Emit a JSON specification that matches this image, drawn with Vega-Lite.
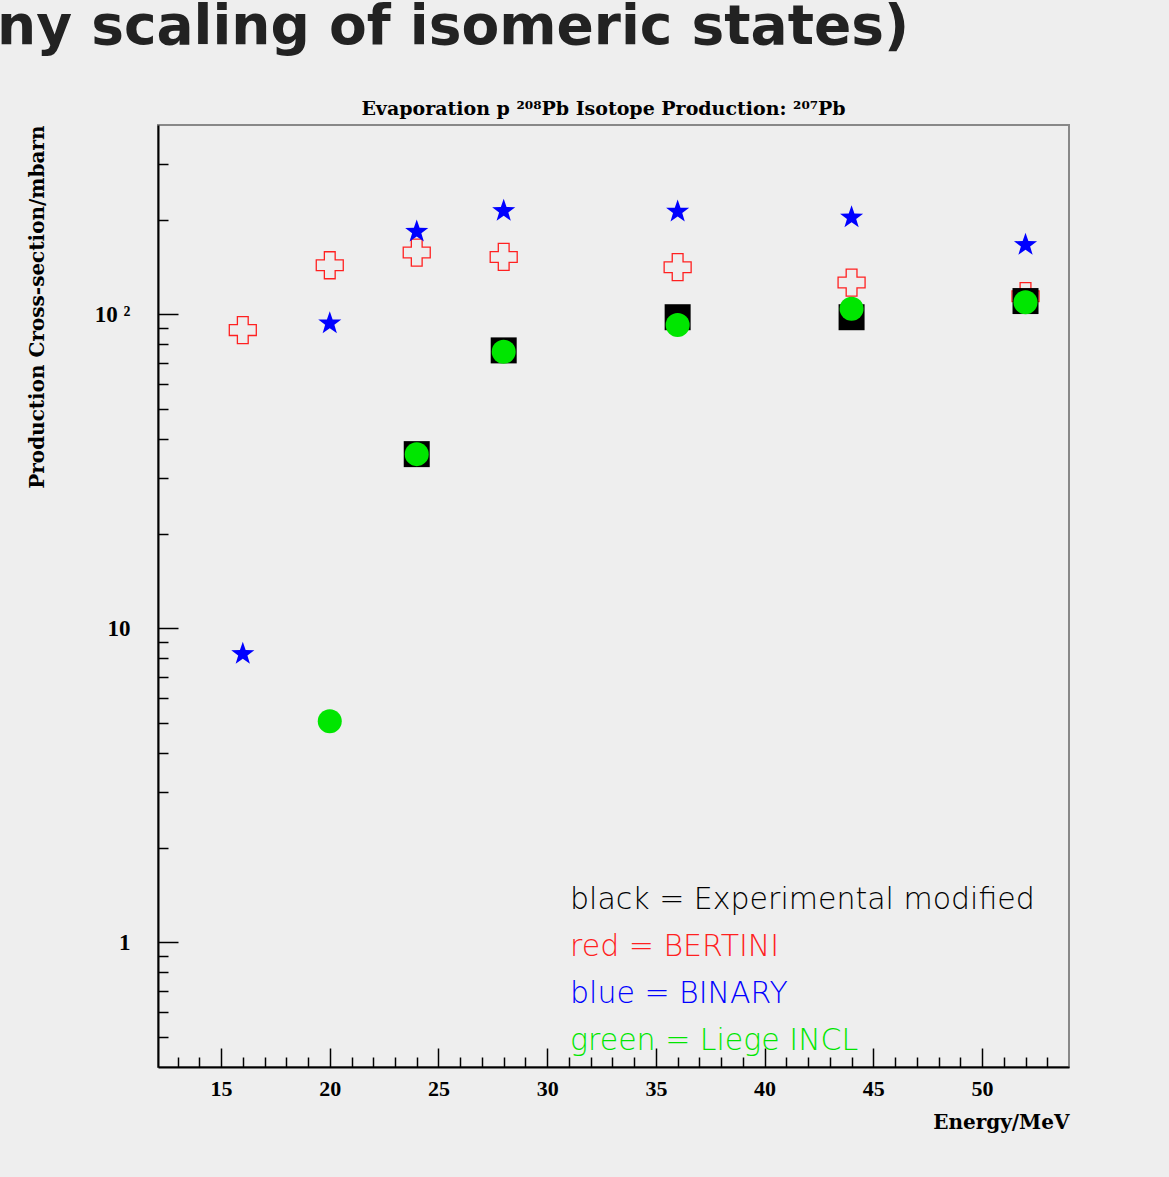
{
  "$schema": "https://vega.github.io/schema/vega-lite/v6.json",
  "width": 911,
  "height": 942,
  "autosize": {"type": "none"},
  "padding": {"left": 158, "top": 125, "right": 100, "bottom": 110},
  "background": "#eeeeee",
  "title": {
    "text": "ny scaling of isomeric states)",
    "anchor": "start",
    "frame": "group",
    "font": "DejaVu Sans",
    "fontSize": 55,
    "fontWeight": "bold",
    "color": "#222222",
    "baseline": "alphabetic",
    "offset": 0,
    "dx": -161
  },
  "config": {
    "view": {"stroke": "#888888", "strokeWidth": 2, "fill": "#eeeeee"}
  },
  "datasets": {
    "pts": [
      {"energy": 16, "xs": 88.9, "model": "BERTINI"},
      {"energy": 20, "xs": 143, "model": "BERTINI"},
      {"energy": 24, "xs": 157, "model": "BERTINI"},
      {"energy": 28, "xs": 152, "model": "BERTINI"},
      {"energy": 36, "xs": 141, "model": "BERTINI"},
      {"energy": 44, "xs": 126, "model": "BERTINI"},
      {"energy": 52, "xs": 114, "model": "BERTINI"},
      {"energy": 16, "xs": 8.27, "model": "BINARY"},
      {"energy": 20, "xs": 93.4, "model": "BINARY"},
      {"energy": 24, "xs": 183, "model": "BINARY"},
      {"energy": 28, "xs": 213, "model": "BINARY"},
      {"energy": 36, "xs": 212, "model": "BINARY"},
      {"energy": 44, "xs": 203, "model": "BINARY"},
      {"energy": 52, "xs": 166, "model": "BINARY"},
      {"energy": 24, "xs": 35.8, "model": "Experimental modified"},
      {"energy": 28, "xs": 76.6, "model": "Experimental modified"},
      {"energy": 36, "xs": 97.7, "model": "Experimental modified"},
      {"energy": 44, "xs": 97.7, "model": "Experimental modified"},
      {"energy": 52, "xs": 110, "model": "Experimental modified"},
      {"energy": 20, "xs": 5.05, "model": "Liege INCL"},
      {"energy": 24, "xs": 35.8, "model": "Liege INCL"},
      {"energy": 28, "xs": 75.9, "model": "Liege INCL"},
      {"energy": 36, "xs": 92.3, "model": "Liege INCL"},
      {"energy": 44, "xs": 104, "model": "Liege INCL"},
      {"energy": 52, "xs": 109, "model": "Liege INCL"}
    ]
  },
  "data": {"name": "pts"},
  "layer": [
    {
      "transform": [{"filter": "datum.model === 'BERTINI'"}],
      "mark": {"type": "point", "shape": "cross", "filled": false, "size": 729, "strokeWidth": 1.3, "opacity": 1},
      "encoding": {
        "x": {
          "field": "energy", "type": "quantitative",
          "scale": {"domain": [12.1, 54], "nice": false, "zero": false},
          "axis": {
            "orient": "bottom", "values": [15, 20, 25, 30, 35, 40, 45, 50], "format": "d",
            "tickSize": -19, "tickColor": "#000000", "tickWidth": 1.5,
            "domainColor": "#000000", "domainWidth": 2, "grid": false,
            "labelFont": "Liberation Serif", "labelFontWeight": "bold", "labelFontSize": 22,
            "labelColor": "#000000", "labelPadding": 30, "labelFlush": false,
            "title": "Energy/MeV", "titleFont": "DejaVu Serif", "titleFontSize": 20,
            "titleFontWeight": "bold", "titleColor": "#000000",
            "titleAlign": "right", "titleX": 911, "titleY": 61, "titleBaseline": "alphabetic"
          }
        },
        "y": {
          "field": "xs", "type": "quantitative",
          "scale": {"type": "log", "domain": [0.4, 400], "nice": false},
          "axis": {
            "orient": "left", "values": [1, 10, 100],
            "tickSize": -20, "tickColor": "#000000", "tickWidth": 1.5,
            "domainColor": "#000000", "domainWidth": 2, "grid": false,
            "labelFont": "Liberation Serif", "labelFontWeight": "bold", "labelFontSize": 23,
            "labelColor": "#000000", "labelPadding": 48,
            "labelExpr": "datum.value == 100 ? '10 ²' : datum.value == 10 ? '10' : '1'",
            "title": "Production  Cross-section/mbarn", "titleFont": "DejaVu Serif",
            "titleFontSize": 20, "titleFontWeight": "bold", "titleColor": "#000000",
            "titleAngle": 270, "titleAlign": "right", "titleBaseline": "middle",
            "titleX": -121, "titleY": 0
          }
        },
        "color": {
          "field": "model", "type": "nominal",
          "scale": {"domain": ["Experimental modified", "BERTINI", "BINARY", "Liege INCL"], "range": ["#000000", "#ff2020", "#0000ff", "#00e600"]},
          "legend": {
            "title": null, "orient": "none", "legendX": 382, "legendY": 760,
            "symbolSize": 0, "symbolOpacity": 0, "symbolStrokeWidth": 0, "labelOffset": 0,
            "labelFont": "DejaVu Sans", "labelFontSize": 30, "labelFontWeight": 200,
            "rowPadding": 17, "padding": 0, "labelLimit": 0,
            "labelExpr": "(datum.label === 'Experimental modified' ? 'black' : datum.label === 'BERTINI' ? 'red' : datum.label === 'BINARY' ? 'blue' : 'green') + ' = ' + datum.label",
            "encode": {"labels": {"update": {"fill": {"signal": "scale('color', datum.value)"}}}}
          }
        }
      }
    },
    {
      "transform": [{"filter": "datum.model === 'BINARY'"}],
      "mark": {"type": "point", "shape": "M0,-1L0.235,-0.324L0.951,-0.309L0.38,0.124L0.588,0.809L0,0.4L-0.588,0.809L-0.38,0.124L-0.951,-0.309L-0.235,-0.324Z", "filled": true, "size": 590, "opacity": 1},
      "encoding": {
        "x": {
          "field": "energy", "type": "quantitative",
          "scale": {"domain": [12.1, 54], "nice": false, "zero": false},
          "axis": {
            "orient": "bottom",
            "values": [13, 14, 16, 17, 18, 19, 21, 22, 23, 24, 26, 27, 28, 29, 31, 32, 33, 34, 36, 37, 38, 39, 41, 42, 43, 44, 46, 47, 48, 49, 51, 52, 53],
            "tickSize": -10, "tickColor": "#000000", "tickWidth": 1.5,
            "labels": false, "domain": false, "grid": false, "title": null
          }
        },
        "y": {
          "field": "xs", "type": "quantitative",
          "scale": {"type": "log", "domain": [0.4, 400], "nice": false},
          "axis": {
            "orient": "left",
            "values": [0.5, 0.6, 0.7, 0.8, 0.9, 2, 3, 4, 5, 6, 7, 8, 9, 20, 30, 40, 50, 60, 70, 80, 90, 200, 300],
            "tickSize": -10, "tickColor": "#000000", "tickWidth": 1.5,
            "labels": false, "domain": false, "grid": false, "title": null
          }
        },
        "color": {
          "field": "model", "type": "nominal",
          "scale": {"domain": ["Experimental modified", "BERTINI", "BINARY", "Liege INCL"], "range": ["#000000", "#ff2020", "#0000ff", "#00e600"]},
          "legend": {
            "title": null, "orient": "none", "legendX": 382, "legendY": 760,
            "symbolSize": 0, "symbolOpacity": 0, "symbolStrokeWidth": 0, "labelOffset": 0,
            "labelFont": "DejaVu Sans", "labelFontSize": 30, "labelFontWeight": 200,
            "rowPadding": 17, "padding": 0, "labelLimit": 0,
            "labelExpr": "(datum.label === 'Experimental modified' ? 'black' : datum.label === 'BERTINI' ? 'red' : datum.label === 'BINARY' ? 'blue' : 'green') + ' = ' + datum.label",
            "encode": {"labels": {"update": {"fill": {"signal": "scale('color', datum.value)"}}}}
          }
        }
      }
    },
    {
      "transform": [{"filter": "datum.model === 'Experimental modified'"}],
      "mark": {"type": "point", "shape": "square", "filled": true, "size": 676, "opacity": 1},
      "encoding": {
        "x": {
          "field": "energy", "type": "quantitative",
          "scale": {"domain": [12.1, 54], "nice": false, "zero": false},
          "axis": {
            "orient": "top", "ticks": false, "labels": false, "domain": false, "grid": false,
            "title": "Evaporation p ²⁰⁸Pb Isotope Production: ²⁰⁷Pb",
            "titleFont": "DejaVu Serif", "titleFontSize": 19, "titleFontWeight": "bold",
            "titleColor": "#000000", "titleAlign": "center", "titleBaseline": "alphabetic",
            "titleX": 445, "titleY": -11
          }
        },
        "y": {
          "field": "xs", "type": "quantitative",
          "scale": {"type": "log", "domain": [0.4, 400], "nice": false},
          "axis": null
        },
        "color": {
          "field": "model", "type": "nominal",
          "scale": {"domain": ["Experimental modified", "BERTINI", "BINARY", "Liege INCL"], "range": ["#000000", "#ff2020", "#0000ff", "#00e600"]},
          "legend": {
            "title": null, "orient": "none", "legendX": 382, "legendY": 760,
            "symbolSize": 0, "symbolOpacity": 0, "symbolStrokeWidth": 0, "labelOffset": 0,
            "labelFont": "DejaVu Sans", "labelFontSize": 30, "labelFontWeight": 200,
            "rowPadding": 17, "padding": 0, "labelLimit": 0,
            "labelExpr": "(datum.label === 'Experimental modified' ? 'black' : datum.label === 'BERTINI' ? 'red' : datum.label === 'BINARY' ? 'blue' : 'green') + ' = ' + datum.label",
            "encode": {"labels": {"update": {"fill": {"signal": "scale('color', datum.value)"}}}}
          }
        }
      }
    },
    {
      "transform": [{"filter": "datum.model === 'Liege INCL'"}],
      "mark": {"type": "point", "shape": "circle", "filled": true, "size": 576, "opacity": 1},
      "encoding": {
        "x": {
          "field": "energy", "type": "quantitative",
          "scale": {"domain": [12.1, 54], "nice": false, "zero": false},
          "axis": null
        },
        "y": {
          "field": "xs", "type": "quantitative",
          "scale": {"type": "log", "domain": [0.4, 400], "nice": false},
          "axis": null
        },
        "color": {
          "field": "model", "type": "nominal",
          "scale": {"domain": ["Experimental modified", "BERTINI", "BINARY", "Liege INCL"], "range": ["#000000", "#ff2020", "#0000ff", "#00e600"]},
          "legend": {
            "title": null, "orient": "none", "legendX": 382, "legendY": 760,
            "symbolSize": 0, "symbolOpacity": 0, "symbolStrokeWidth": 0, "labelOffset": 0,
            "labelFont": "DejaVu Sans", "labelFontSize": 30, "labelFontWeight": 200,
            "rowPadding": 17, "padding": 0, "labelLimit": 0,
            "labelExpr": "(datum.label === 'Experimental modified' ? 'black' : datum.label === 'BERTINI' ? 'red' : datum.label === 'BINARY' ? 'blue' : 'green') + ' = ' + datum.label",
            "encode": {"labels": {"update": {"fill": {"signal": "scale('color', datum.value)"}}}}
          }
        }
      }
    }
  ],
  "resolve": {"axis": {"x": "independent", "y": "independent"}}
}
